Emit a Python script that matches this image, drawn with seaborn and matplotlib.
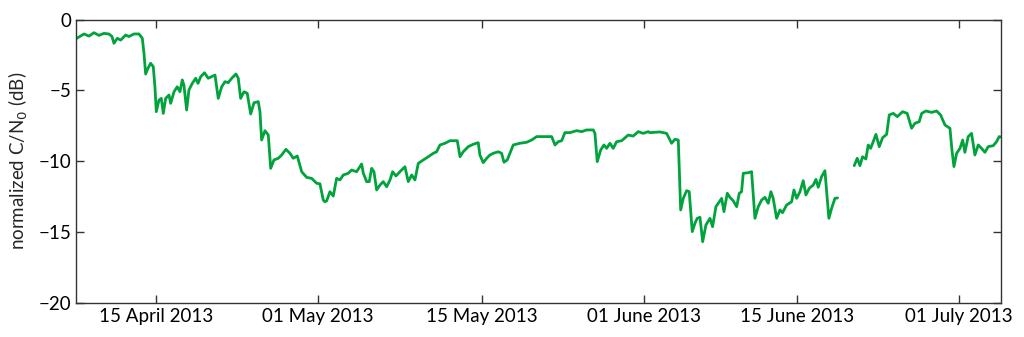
import numpy as np
import pandas as pd
import seaborn as sns
import matplotlib.pyplot as plt

# days since 15 April 2013 (x) and normalized C/N0 in dB (y)
day_a = [-7.60, -6.90, -6.42, -5.94, -5.47, -4.99, -4.51, -4.22, -4.03, -3.71, -3.38, -2.91, -2.59,
         -2.11, -1.63, -1.31, -1.15, -0.99, -0.77, -0.51, -0.26, -0.10, 0.03, 0.29, 0.51, 0.70,
         0.93, 1.25, 1.41, 1.73, 2.04, 2.30, 2.52, 2.68, 2.94, 3.16, 3.48, 3.81, 4.03, 4.29, 4.65,
         5.01, 5.66, 5.97, 6.30, 6.62, 6.93, 7.26, 7.67, 7.89, 8.12, 8.44, 8.75, 9.08, 9.40, 9.81,
         9.97, 10.13, 10.45, 10.77, 11.00, 11.31, 11.73, 12.05, 12.46, 12.85, 13.16, 13.55, 13.97,
         14.45, 14.93, 15.41, 15.72, 16.04, 16.20, 16.37, 16.68, 17.00, 17.32, 17.64, 17.96, 18.44,
         18.76, 19.24, 19.72, 19.88, 20.20, 20.45, 20.68, 20.90, 21.16, 21.48, 21.79, 22.12, 22.44,
         22.69, 23.01, 23.39, 23.87, 24.19, 24.52, 24.83, 25.15, 25.63, 26.11, 26.59, 26.91, 27.23,
         27.71, 28.19, 28.89, 29.15, 29.46, 29.94, 30.42, 30.90, 31.06, 31.38, 31.71, 32.02, 32.34,
         32.82, 33.14, 33.37, 33.68, 33.94, 34.26, 34.90, 35.54, 36.02, 36.50, 37.13, 37.94, 38.26,
         38.57, 38.90, 39.21, 39.69, 40.34, 40.82, 41.29, 41.93, 42.09, 42.31, 42.64, 42.95, 43.21,
         43.53, 43.84, 44.17, 44.65, 45.28, 45.76, 46.24, 46.72, 47.20, 47.36, 48.32, 48.96, 49.44,
         49.76, 50.08, 50.31, 50.56, 50.88, 51.13, 51.42, 51.68, 51.90, 52.16, 52.42, 52.73, 53.12,
         53.37, 53.69, 54.01, 54.24, 54.46, 54.78, 55.03, 55.35, 55.68, 55.93, 56.15, 56.31, 56.79,
         57.11, 57.43, 57.75, 58.07, 58.39, 58.71, 58.96, 59.18, 59.51, 59.83, 60.08, 60.47, 60.95,
         61.17, 61.43, 61.75, 62.06, 62.32, 62.64, 63.02, 63.28, 63.50, 63.82, 64.14, 64.52, 64.78,
         65.10, 65.35]
cn0_a = [-1.33, -1.02, -1.17, -0.93, -1.12, -0.98, -1.02, -1.20, -1.68, -1.33, -1.45, -1.10, -1.20,
         -1.02, -1.02, -1.33, -2.39, -3.85, -3.45, -3.09, -3.33, -4.75, -6.51, -5.69, -5.57, -6.63,
         -5.57, -5.33, -5.92, -5.10, -4.75, -5.10, -4.27, -4.63, -6.39, -4.98, -4.51, -4.15, -4.51,
         -4.04, -3.76, -4.15, -3.92, -5.57, -4.75, -4.39, -4.46, -4.15, -3.85, -4.15, -5.57, -5.10,
         -5.21, -6.67, -5.88, -5.80, -6.51, -8.51, -7.85, -8.16, -10.51, -9.92, -9.80, -9.57, -9.17,
         -9.45, -9.80, -9.64, -10.75, -11.15, -11.22, -11.57, -11.60, -12.75, -12.87, -12.80, -12.16,
         -12.47, -11.22, -11.33, -10.98, -10.86, -10.63, -10.75, -10.20, -10.86, -11.45, -11.45,
         -10.51, -10.75, -12.04, -11.69, -11.45, -11.81, -11.33, -10.75, -11.05, -10.75, -10.40,
         -11.45, -10.98, -11.33, -10.16, -9.92, -9.69, -9.45, -9.34, -8.86, -8.74, -8.56, -8.56,
         -9.69, -9.34, -8.98, -8.81, -8.70, -9.57, -10.11, -9.80, -9.57, -9.45, -9.34, -9.45, -10.08,
         -9.92, -9.45, -8.86, -8.74, -8.67, -8.51, -8.27, -8.27, -8.27, -8.86, -8.63, -8.56, -7.99,
         -7.99, -7.85, -7.92, -7.80, -7.80, -8.04, -10.04, -9.22, -8.86, -9.10, -8.74, -9.10, -8.63,
         -8.56, -8.16, -8.23, -7.92, -8.04, -7.92, -7.99, -7.94, -8.04, -8.74, -8.46, -8.51, -13.45,
         -12.63, -12.09, -12.16, -14.98, -14.39, -14.04, -13.97, -15.69, -14.51, -14.04, -14.63,
         -13.22, -12.87, -12.63, -13.57, -12.27, -12.56, -12.80, -13.22, -12.27, -12.16, -10.86,
         -10.82, -10.75, -14.04, -13.22, -12.75, -12.56, -12.98, -12.16, -12.63, -14.04, -13.45,
         -13.64, -13.10, -12.87, -12.04, -12.63, -12.16, -11.38, -12.39, -11.92, -11.69, -11.29,
         -11.85, -11.10, -10.68, -14.04, -13.34, -12.63, -12.60]

day_b = [66.95, 67.24, 67.50, 67.75, 68.07, 68.29, 68.52, 68.77, 69.03, 69.35, 69.67, 70.06, 70.31,
         70.69, 71.08, 71.59, 72.03, 72.45, 72.77, 73.18, 73.42, 73.83, 74.37, 74.85, 75.23, 75.65,
         76.13, 76.32, 76.51, 76.77, 77.09, 77.35, 77.56, 77.88, 78.20, 78.52, 78.84, 79.16, 79.48,
         79.80, 80.28, 80.60, 80.85, 81.02]
cn0_b = [-10.32, -9.80, -10.32, -9.69, -9.85, -8.86, -9.10, -8.63, -8.11, -8.98, -8.35, -8.11, -6.74,
         -6.63, -6.86, -6.51, -6.63, -7.68, -7.33, -7.22, -6.63, -6.46, -6.56, -6.46, -6.74, -7.45,
         -7.68, -9.22, -10.39, -9.45, -9.10, -8.51, -9.38, -8.27, -8.04, -9.57, -8.86, -9.10, -9.38,
         -8.98, -8.91, -8.63, -8.27, -8.30]

tick_days = [0, 15.53, 31.26, 46.79, 61.46, 76.99]
tick_labels = ['15 April 2013', '01 May 2013', '15 May 2013', '01 June 2013', '15 June 2013', '01 July 2013']

df = pd.DataFrame({
    'day': day_a + day_b,
    'cn0': cn0_a + cn0_b,
    'segment': ['a'] * len(day_a) + ['b'] * len(day_b),
})

sns.set_style('ticks')
plt.rcParams['font.family'] = ['Lato', 'DejaVu Sans']

fig = plt.figure(figsize=(10.24, 3.37), dpi=100)
ax = fig.add_axes([0.0742, 0.1018, 0.9033, 0.8403])
sns.lineplot(data=df, x='day', y='cn0', units='segment', estimator=None,
             color='#00a33c', linewidth=2.0, ax=ax)

ax.set_xlim(-7.67, 81.02)
ax.set_ylim(-20, 0)
ax.set_xticks(tick_days)
ax.set_xticklabels(tick_labels)
ax.set_yticks([0, -5, -10, -15, -20])
ax.set_xlabel('')
ax.set_ylabel('normalized C/N$_0$ (dB)', fontsize=13.5, labelpad=6)
ax.tick_params(direction='in', length=6, width=1, top=True, right=True,
               labelsize=13.5, colors='#333333', labelcolor='black')
for s in ax.spines.values():
    s.set_linewidth(1)
    s.set_color('#333333')

fig.savefig('out.png', dpi=100)
